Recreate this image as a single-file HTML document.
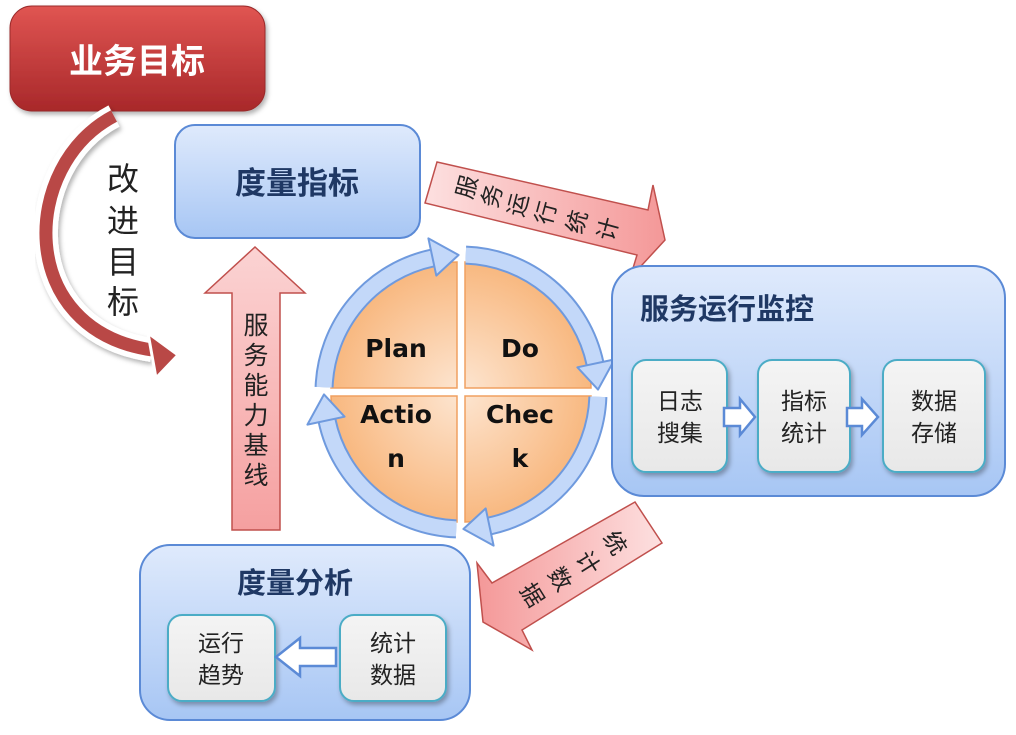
<!DOCTYPE html>
<html><head><meta charset="utf-8">
<style>
html,body{margin:0;padding:0;background:#fff;}
svg{display:block;}
text{font-family:"Liberation Sans","Noto Sans CJK SC",sans-serif;}
</style></head>
<body>
<svg width="1016" height="735" viewBox="0 0 1016 735" xmlns="http://www.w3.org/2000/svg">
<defs>
<linearGradient id="red" x1="0" y1="0" x2="0" y2="1"><stop offset="0" stop-color="#e05552"/><stop offset="1" stop-color="#a8282a"/></linearGradient>
<linearGradient id="blue" x1="0" y1="0" x2="0" y2="1"><stop offset="0" stop-color="#dfeafc"/><stop offset="1" stop-color="#a7c6f4"/></linearGradient>
<linearGradient id="pinkv" x1="0" y1="0" x2="0" y2="1"><stop offset="0" stop-color="#fbd3d3"/><stop offset="1" stop-color="#f5a0a0"/></linearGradient>
<linearGradient id="pinkh" x1="0" y1="0" x2="1" y2="0"><stop offset="0" stop-color="#fde0e0"/><stop offset="1" stop-color="#f49898"/></linearGradient>
<linearGradient id="pinkh2" x1="1" y1="0" x2="0" y2="0"><stop offset="0" stop-color="#fde0e0"/><stop offset="1" stop-color="#f49898"/></linearGradient>
<radialGradient id="orange" cx="461" cy="392" r="135" gradientUnits="userSpaceOnUse"><stop offset="0" stop-color="#fde6d2"/><stop offset="1" stop-color="#f8b67c"/></radialGradient>
<linearGradient id="grey" x1="0" y1="0" x2="0" y2="1"><stop offset="0" stop-color="#f4f4f4"/><stop offset="1" stop-color="#e8e8e8"/></linearGradient>
<filter id="sh" x="-10%" y="-10%" width="130%" height="130%"><feDropShadow dx="2" dy="3" stdDeviation="2.5" flood-color="#000" flood-opacity="0.3"/></filter>
</defs>

<rect x="10" y="6" width="255" height="105" rx="22" fill="url(#red)" stroke="#9a2a2a" stroke-width="1" filter="url(#sh)"/>
<text x="137" y="73" font-size="34" font-weight="bold" fill="#fff" text-anchor="middle">业务目标</text>

<path d="M114,116 C20,165 15,330 152,350" fill="none" stroke="#fff" stroke-width="24" filter="url(#sh)"/>
<path d="M114,116 C20,165 15,330 152,350" fill="none" stroke="#b94846" stroke-width="13"/>
<polygon points="148,333 178,355 156,378" fill="#b94846" stroke="#fff" stroke-width="3"/>
<g font-size="32" fill="#222" text-anchor="middle">
<text x="123" y="190">改</text><text x="123" y="232">进</text><text x="123" y="273">目</text><text x="123" y="313">标</text>
</g>

<rect x="175" y="125" width="245" height="113" rx="20" fill="url(#blue)" stroke="#5b8ad6" stroke-width="2"/>
<text x="297" y="194" font-size="31" font-weight="bold" fill="#1f3864" text-anchor="middle">度量指标</text>

<polygon points="232,530 232,293 205,293 255,247 305,293 280,293 280,530" fill="url(#pinkv)" stroke="#c0504d" stroke-width="1.5"/>
<g font-size="25" fill="#222" text-anchor="middle">
<text x="256" y="334">服</text><text x="256" y="364">务</text><text x="256" y="394">能</text><text x="256" y="424">力</text><text x="256" y="454">基</text><text x="256" y="484">线</text>
</g>

<polygon points="437,162 648,210 653,185 665,240 630,278 637,255 425,203" fill="url(#pinkh)" stroke="#c0504d" stroke-width="1.5"/>
<g font-size="23" fill="#222" text-anchor="middle">
<text transform="translate(467,187) rotate(-75)" y="8">服</text>
<text transform="translate(492,196) rotate(-75)" y="8">务</text>
<text transform="translate(518,205) rotate(-75)" y="8">运</text>
<text transform="translate(546,213) rotate(-75)" y="8">行</text>
<text transform="translate(577,222) rotate(-75)" y="8">统</text>
<text transform="translate(608,229) rotate(-75)" y="8">计</text>
</g>

<g fill="url(#orange)" stroke="#f0a060" stroke-width="1.5">
<path d="M465,388 V262 A128,128 0 0 1 591,388 Z"/>
<path d="M465,388 V262 A128,128 0 0 1 591,388 Z" transform="rotate(90 461 392)"/>
<path d="M465,388 V262 A128,128 0 0 1 591,388 Z" transform="rotate(180 461 392)"/>
<path d="M465,388 V262 A128,128 0 0 1 591,388 Z" transform="rotate(270 461 392)"/>
</g>
<g id="q">
<path d="M465.8,255.1 A137,137 0 0 1 595,363.5" fill="none" stroke="#6f9ade" stroke-width="19"/>
<path d="M465.8,255.1 A137,137 0 0 1 595,363.5" fill="none" stroke="#c3d8f9" stroke-width="15"/>
<polygon points="577.4,367.3 614.6,359.4 598,389.6" fill="#c3d8f9" stroke="#6f9ade" stroke-width="2" stroke-linejoin="round"/>
</g>
<use href="#q" transform="rotate(90 461 392)"/>
<use href="#q" transform="rotate(180 461 392)"/>
<use href="#q" transform="rotate(270 461 392)"/>
<g font-weight="bold" font-size="25" fill="#111" text-anchor="middle">
<text x="396" y="357" style="font-family:'DejaVu Sans',sans-serif">Plan</text>
<text x="520" y="357" style="font-family:'DejaVu Sans',sans-serif">Do</text>
<text x="396" y="423" style="font-family:'DejaVu Sans',sans-serif">Actio</text>
<text x="396" y="467" style="font-family:'DejaVu Sans',sans-serif">n</text>
<text x="520" y="423" style="font-family:'DejaVu Sans',sans-serif">Chec</text>
<text x="520" y="467" style="font-family:'DejaVu Sans',sans-serif">k</text>
</g>

<rect x="612" y="266" width="393" height="230" rx="32" fill="url(#blue)" stroke="#5b8ad6" stroke-width="2"/>
<text x="640" y="319" font-size="29" font-weight="bold" fill="#1f3864">服务运行监控</text>
<g filter="url(#sh)">
<rect x="632" y="360" width="95" height="112" rx="14" fill="url(#grey)" stroke="#4bacc6" stroke-width="2"/>
<rect x="758" y="360" width="92" height="112" rx="14" fill="url(#grey)" stroke="#4bacc6" stroke-width="2"/>
<rect x="883" y="360" width="102" height="112" rx="14" fill="url(#grey)" stroke="#4bacc6" stroke-width="2"/>
</g>
<g font-size="23" fill="#222" text-anchor="middle">
<text x="680" y="409">日志</text><text x="680" y="441">搜集</text>
<text x="804" y="409">指标</text><text x="804" y="441">统计</text>
<text x="934" y="409">数据</text><text x="934" y="441">存储</text>
</g>
<g fill="#fff" stroke="#5b8ad6" stroke-width="2.5">
<polygon points="724,408 740,408 740,399 755,417 740,435 740,426 724,426"/>
<polygon points="847,408 862,408 862,399 878,417 862,435 862,426 847,426"/>
</g>

<polygon points="635,502 492,583 477,563 483,622 532,650 522,630 662,543" fill="url(#pinkh2)" stroke="#c0504d" stroke-width="1.5"/>
<g font-size="23" fill="#222" text-anchor="middle">
<text transform="translate(615,543) rotate(58)" y="8">统</text>
<text transform="translate(588,563) rotate(58)" y="8">计</text>
<text transform="translate(560,579) rotate(58)" y="8">数</text>
<text transform="translate(532,595) rotate(58)" y="8">据</text>
</g>

<rect x="140" y="545" width="330" height="175" rx="30" fill="url(#blue)" stroke="#5b8ad6" stroke-width="2"/>
<text x="295" y="593" font-size="29" font-weight="bold" fill="#1f3864" text-anchor="middle">度量分析</text>
<g filter="url(#sh)">
<rect x="168" y="615" width="107" height="86" rx="14" fill="url(#grey)" stroke="#4bacc6" stroke-width="2"/>
<rect x="340" y="615" width="106" height="86" rx="14" fill="url(#grey)" stroke="#4bacc6" stroke-width="2"/>
</g>
<g font-size="23" fill="#222" text-anchor="middle">
<text x="221" y="651">运行</text><text x="221" y="683">趋势</text>
<text x="393" y="651">统计</text><text x="393" y="683">数据</text>
</g>
<polygon points="336,648 300,648 300,638 276,657 300,676 300,666 336,666" fill="#fff" stroke="#5b8ad6" stroke-width="2.5"/>
</svg>
</body></html>
